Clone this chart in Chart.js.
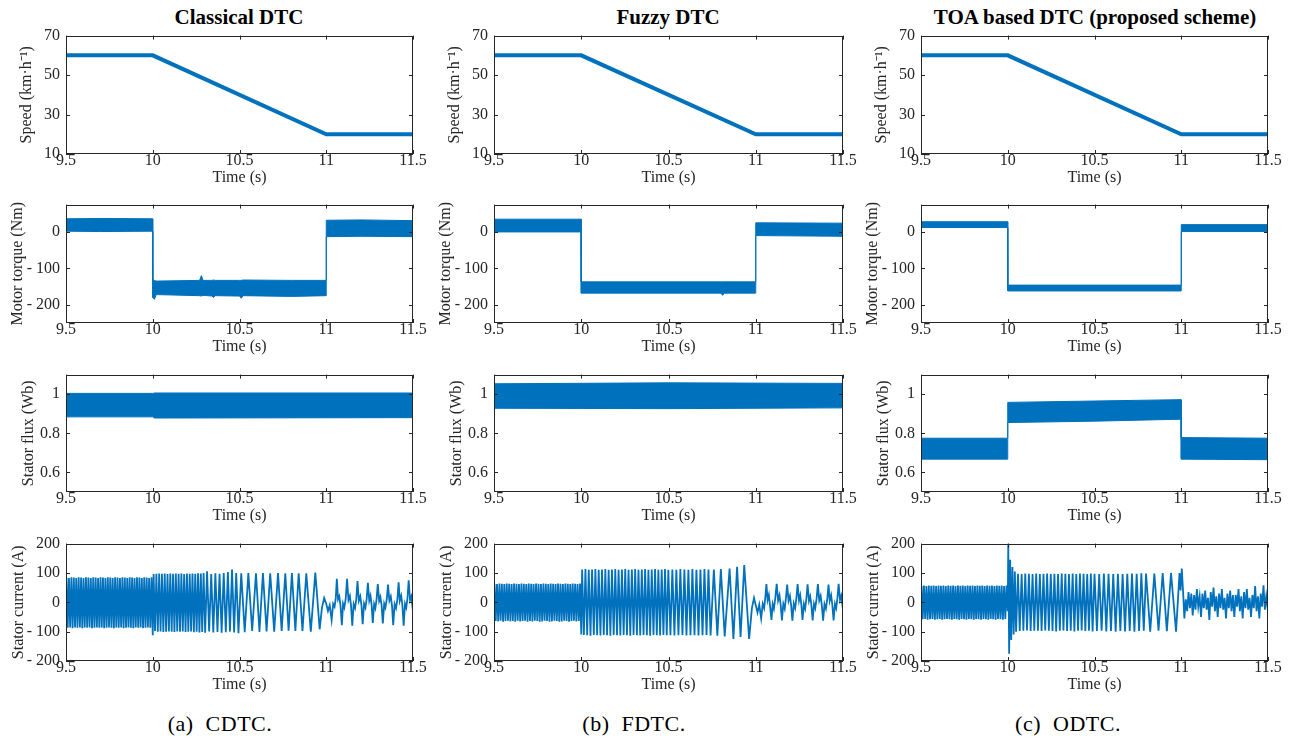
<!DOCTYPE html>
<html lang="en">
<head>
<meta charset="UTF-8">
<title>DTC comparison</title>
<script src="https://cdn.jsdelivr.net/npm/chart.js"></script>
<style>
  body { margin: 0; background: #fff; width: 1297px; height: 737px; position: relative; overflow: hidden; font-family: "Liberation Serif", serif; }
  .title { position: absolute; top: 5px; font-weight: bold; font-size: 21px; transform: translateX(-50%); white-space: nowrap; color: #000; }
  .caption { position: absolute; top: 711px; font-family: "Liberation Serif", serif; font-size: 22px; transform: translateX(-50%); white-space: pre; color: #000; word-spacing: 6px; letter-spacing: 0.5px; }
  canvas { position: absolute; }
</style>
</head>
<body>
<div class="title" style="left:239px">Classical DTC</div>
<div class="title" style="left:668px">Fuzzy DTC</div>
<div class="title" style="left:1095px">TOA based DTC (proposed scheme)</div>
<div class="caption" style="left:220px">(a) CDTC.</div>
<div class="caption" style="left:634px">(b) FDTC.</div>
<div class="caption" style="left:1068px">(c) ODTC.</div>

<script>
  // ---- data ----
  const timeTicks = [9.5, 10, 10.5, 11, 11.5];
  const speedTicks = [10, 30, 50, 70];
  const torqueTicks = [-200, -100, 0];
  const fluxTicks = [0.6, 0.8, 1];
  const currentTicks = [-200, -100, 0, 100, 200];

  // speed reference (same for all three schemes)
  const speedT = [9.5, 10, 11, 11.5];
  const speedV = [60, 60, 20, 20];

  // torque ripple bands (upper / lower envelope)
  const cdtcTorqueT = [9.5, 9.7, 9.999, 10.0, 10.01, 10.02, 10.27, 10.28, 10.29, 10.34, 10.35, 10.36, 10.5, 10.51, 10.52, 10.8, 10.999, 11.0, 11.2, 11.5];
  const cdtcTorqueHi = [36, 37, 36, -133, -133, -135, -133, -120, -133, -133, -132, -133, -133, -133, -132, -133, -133, 32, 33, 31];
  const cdtcTorqueLo = [2, 1, 2, -180, -185, -172, -175, -176, -174, -176, -180, -175, -176, -182, -175, -177, -175, -13, -12, -13];

  const fdtcTorqueT = [9.5, 9.999, 10.0, 10.8, 10.81, 10.82, 10.999, 11.0, 11.5];
  const fdtcTorqueHi = [35, 35, -137, -137, -137, -137, -137, 25, 24];
  const fdtcTorqueLo = [0, 0, -168, -168, -174, -168, -168, -10, -12];

  const odtcTorqueT = [9.5, 9.999, 10.0, 10.999, 11.0, 11.5];
  const odtcTorqueHi = [28, 28, -146, -146, 20, 20];
  const odtcTorqueLo = [12, 12, -162, -162, 1, 1];

  // stator flux bands
  const cdtcFluxT = [9.5, 10, 10.01, 11.5];
  const cdtcFluxHi = [1.004, 1.004, 1.006, 1.006];
  const cdtcFluxLo = [0.884, 0.884, 0.878, 0.880];

  const fdtcFluxT = [9.5, 10.5, 11.5];
  const fdtcFluxHi = [1.053, 1.058, 1.055];
  const fdtcFluxLo = [0.928, 0.926, 0.930];

  const odtcFluxT = [9.5, 9.999, 10.0, 10.5, 10.999, 11.0, 11.5];
  const odtcFluxHi = [0.775, 0.775, 0.958, 0.965, 0.972, 0.778, 0.775];
  const odtcFluxLo = [0.668, 0.668, 0.855, 0.862, 0.872, 0.668, 0.665];

  // stator current turning points before the deceleration (shared times)
  const tBefore = [
    9.503, 9.510, 9.517, 9.524, 9.531, 9.538, 9.545, 9.552, 9.559, 9.566,
    9.573, 9.580, 9.587, 9.594, 9.601, 9.608, 9.615, 9.622, 9.629, 9.636,
    9.643, 9.650, 9.657, 9.664, 9.671, 9.678, 9.685, 9.692, 9.699, 9.706,
    9.713, 9.720, 9.727, 9.734, 9.741, 9.748, 9.755, 9.762, 9.769, 9.776,
    9.783, 9.790, 9.797, 9.804, 9.811, 9.818, 9.825, 9.832, 9.839, 9.846,
    9.853, 9.860, 9.867, 9.874, 9.881, 9.888, 9.895, 9.902, 9.909, 9.916,
    9.923, 9.930, 9.937, 9.944, 9.951, 9.958, 9.965, 9.972, 9.979, 9.986,
    9.993
  ];
  const cdtcBefore = [
    84, -87, 83, -86, 85, -88, 84, -86, 83, -87,
    85, -86, 84, -88, 83, -86, 85, -87, 84, -86,
    83, -88, 85, -87, 84, -86, 83, -87, 85, -86,
    84, -88, 83, -87, 85, -86, 84, -87, 83, -88,
    85, -86, 84, -87, 83, -86, 85, -88, 84, -87,
    83, -86, 85, -87, 84, -88, 83, -86, 85, -87,
    84, -86, 83, -88, 85, -87, 84, -86, 83, -87,
    85
  ];
  const fdtcBefore = [
    63, -64, 62, -65, 64, -63, 63, -66, 62, -64,
    64, -63, 63, -65, 62, -64, 64, -66, 63, -63,
    62, -65, 64, -64, 63, -63, 62, -66, 64, -64,
    63, -65, 62, -63, 64, -64, 63, -66, 62, -65,
    64, -63, 63, -64, 62, -66, 64, -65, 63, -63,
    62, -64, 64, -66, 63, -65, 62, -63, 64, -64,
    63, -66, 62, -64, 64, -63, 63, -65, 62, -64,
    64
  ];
  const odtcBefore = [
    56, -58, 57, -57, 55, -59, 57, -58, 56, -57,
    57, -59, 55, -58, 57, -57, 56, -59, 57, -58,
    55, -57, 57, -58, 56, -59, 57, -57, 55, -58,
    57, -59, 56, -57, 57, -58, 55, -59, 57, -57,
    56, -58, 57, -59, 55, -57, 57, -58, 56, -59,
    57, -57, 55, -58, 57, -59, 56, -57, 57, -58,
    55, -59, 57, -57, 56, -58, 57, -59, 55, -57,
    57
  ];

  // stator current turning points [time, amps] from 10 s on
  const cdtcAfter = [
    [10.000,-112],[10.005,96],[10.013,-98],[10.021,97],[10.029,-100],[10.037,98],[10.045,-99],[10.053,97],[10.061,-101],[10.069,98],
    [10.077,-100],[10.085,96],[10.093,-99],[10.101,98],[10.109,-100],[10.117,97],[10.125,-101],[10.133,98],[10.141,-99],[10.149,97],
    [10.157,-100],[10.165,98],[10.173,-99],[10.181,96],[10.189,-101],[10.197,98],[10.205,-100],[10.213,97],[10.221,-99],[10.229,98],
    [10.237,-102],[10.245,97],[10.253,-100],[10.261,99],[10.269,-103],[10.277,98],[10.285,-101],[10.293,100],[10.302,-104],[10.313,106],
    [10.325,-99],[10.337,96],[10.349,-103],[10.361,99],[10.373,-101],[10.385,97],[10.397,-104],[10.409,100],[10.421,-102],[10.433,103],
    [10.445,-100],[10.457,112],[10.469,-103],[10.481,100],[10.494,-105],[10.510,99],[10.530,-102],[10.551,100],[10.573,-98],[10.595,99],
    [10.615,-101],[10.635,100],[10.656,-99],[10.677,99],[10.700,-100],[10.722,100],[10.743,-98],[10.764,99],[10.783,-97],[10.802,100],
    [10.822,-98],[10.841,99],[10.863,-98],[10.885,99],[10.911,-100],[10.937,101],[10.962,-92],[10.975,-20],[10.988,15],
    [11.000,-5],[11.010,-30],[11.020,-10],[11.031,-60],[11.040,-5],[11.048,-15],[11.055,15],[11.061,80],[11.068,10],[11.075,20],
    [11.082,-10],[11.090,-78],[11.097,-5],[11.104,-18],[11.112,12],[11.120,80],[11.128,8],[11.136,22],[11.143,-12],[11.150,-80],
    [11.158,-6],[11.166,-20],[11.173,10],[11.180,72],[11.188,5],[11.196,20],[11.203,-10],[11.210,-75],[11.218,-4],[11.226,-18],
    [11.233,12],[11.240,66],[11.248,6],[11.255,22],[11.262,-12],[11.268,-70],[11.276,-6],[11.283,-20],[11.290,10],[11.297,62],
    [11.305,5],[11.312,18],[11.319,-10],[11.326,-72],[11.334,-5],[11.341,-18],[11.349,12],[11.356,60],[11.364,6],[11.372,20],
    [11.379,-12],[11.386,-78],[11.394,-6],[11.402,-20],[11.410,10],[11.417,68],[11.424,5],[11.432,22],[11.439,-10],[11.446,-80],
    [11.454,-5],[11.461,-18],[11.468,12],[11.475,75],[11.483,8],[11.490,20],[11.500,-30]
  ];
  const fdtcAfter = [
    [10.000,-110],[10.005,112],[10.015,-111],[10.024,113],[10.034,-112],[10.043,111],[10.053,-114],[10.062,112],[10.072,-111],[10.081,113],
    [10.091,-112],[10.100,111],[10.110,-113],[10.119,112],[10.129,-111],[10.138,113],[10.148,-112],[10.157,111],[10.167,-114],[10.176,112],
    [10.186,-111],[10.195,113],[10.205,-112],[10.214,111],[10.224,-113],[10.233,112],[10.243,-111],[10.252,113],[10.262,-112],[10.271,111],
    [10.281,-114],[10.290,112],[10.300,-111],[10.309,113],[10.319,-112],[10.328,111],[10.338,-113],[10.347,112],[10.357,-111],[10.366,113],
    [10.376,-112],[10.385,111],[10.395,-114],[10.404,112],[10.414,-111],[10.423,113],[10.433,-112],[10.442,111],[10.452,-113],[10.461,112],
    [10.471,-111],[10.480,113],[10.490,-112],[10.499,111],[10.511,-112],[10.522,112],[10.534,-113],[10.545,111],[10.557,-112],[10.568,113],
    [10.580,-111],[10.591,112],[10.603,-113],[10.614,111],[10.626,-112],[10.637,113],[10.649,-112],[10.660,111],[10.672,-113],[10.683,112],
    [10.695,-112],[10.706,113],[10.718,-111],[10.729,112],[10.741,-113],[10.760,112],[10.780,-114],[10.800,113],[10.822,-116],[10.850,115],
    [10.872,-125],[10.893,121],[10.913,-118],[10.934,127],[10.962,-125],[10.978,-20],[10.990,15],
    [11.000,-10],[11.010,-35],[11.020,-8],[11.031,-55],[11.040,-5],[11.048,-20],[11.055,18],[11.061,62],[11.068,8],[11.075,25],
    [11.082,-12],[11.090,-60],[11.097,-6],[11.104,-22],[11.112,15],[11.120,63],[11.128,6],[11.136,24],[11.143,-10],[11.150,-62],
    [11.158,-5],[11.166,-22],[11.173,14],[11.180,60],[11.188,5],[11.196,22],[11.203,-12],[11.210,-63],[11.218,-4],[11.226,-20],
    [11.233,15],[11.240,62],[11.248,6],[11.255,24],[11.262,-12],[11.268,-60],[11.276,-6],[11.283,-22],[11.290,12],[11.297,61],
    [11.305,5],[11.312,20],[11.319,-10],[11.326,-62],[11.334,-5],[11.341,-20],[11.349,14],[11.356,62],[11.364,6],[11.372,22],
    [11.379,-12],[11.386,-63],[11.394,-6],[11.402,-22],[11.410,12],[11.417,60],[11.424,5],[11.432,24],[11.439,-10],[11.446,-62],
    [11.454,-5],[11.461,-20],[11.468,14],[11.475,63],[11.483,8],[11.490,22],[11.500,-25]
  ];
  const odtcAfter = [
    [10.000,-30],[10.003,200],[10.008,-175],[10.014,145],[10.020,-128],[10.027,120],[10.034,-110],[10.041,105],[10.048,-100],
    [10.059,97],[10.069,-98],[10.080,96],[10.090,-97],[10.101,98],[10.111,-96],[10.122,97],[10.132,-98],[10.143,96],[10.153,-97],
    [10.164,98],[10.174,-97],[10.185,96],[10.195,-98],[10.206,97],[10.216,-96],[10.227,98],[10.237,-97],[10.248,96],[10.258,-98],
    [10.269,97],[10.279,-99],[10.290,96],[10.300,-97],[10.311,98],[10.321,-96],[10.332,97],[10.342,-98],[10.353,96],[10.363,-97],
    [10.374,98],[10.384,-99],[10.395,96],[10.405,-97],[10.416,98],[10.426,-96],[10.437,97],[10.447,-98],[10.458,96],[10.468,-97],
    [10.479,98],[10.489,-99],[10.500,97],[10.514,-98],[10.527,96],[10.541,-97],[10.554,98],[10.568,-99],[10.581,97],[10.595,-98],
    [10.608,96],[10.622,-100],[10.635,97],[10.649,-98],[10.662,96],[10.676,-99],[10.689,97],[10.703,-98],[10.716,98],[10.730,-100],
    [10.743,97],[10.757,-98],[10.770,99],[10.784,-97],[10.797,98],[10.821,-100],[10.845,98],[10.869,-97],[10.893,100],[10.917,-98],
    [10.941,100],[10.970,-100],[10.990,100],[10.996,40],[11.003,115],[11.012,20],
    [11.018,-55],[11.026,10],[11.034,-30],[11.042,35],[11.050,-20],[11.058,30],[11.066,-45],[11.074,25],[11.082,-25],[11.090,45],
    [11.098,-15],[11.106,20],[11.114,-50],[11.122,30],[11.130,-20],[11.138,40],[11.146,-25],[11.154,15],[11.162,-60],[11.170,35],
    [11.178,-15],[11.186,50],[11.194,-30],[11.202,20],[11.210,-50],[11.218,30],[11.226,-20],[11.234,45],[11.242,-25],[11.250,15],
    [11.258,-55],[11.266,30],[11.274,-20],[11.282,40],[11.290,-30],[11.298,25],[11.306,-50],[11.314,25],[11.322,-15],[11.330,45],
    [11.338,-30],[11.346,20],[11.354,-55],[11.362,35],[11.370,-20],[11.378,45],[11.386,-25],[11.394,15],[11.402,-50],[11.410,25],
    [11.418,-20],[11.426,55],[11.434,-30],[11.442,20],[11.450,-55],[11.458,30],[11.466,-15],[11.474,58],[11.482,-25],[11.490,20],
    [11.500,-30]
  ];

  // ---- layout ----
  const BLUE = '#0072BD';
  const INK = '#262626';
  const colLeft = [66, 494, 921];
  const colWidth = [347, 349, 347];
  const rowTop = [32, 201, 371, 540];
  const rowHeight = [122, 122, 121, 121];
  const titleGap = [39, 48, 37, 47];   // distance of y title centre from the axis
  const L = 60, R = 18, T = 12, B = 44;

  const zip = (xs, ys) => xs.map((x, i) => ({x: x, y: ys[i]}));
  const fmt = v => v < 0 ? '- ' + Math.abs(v) : String(v);

  const frame = {
    id: 'frame',
    afterDraw(chart) {
      const {ctx, chartArea: a, scales: {x, y}} = chart;
      ctx.save();
      ctx.strokeStyle = INK;
      ctx.lineWidth = 1;
      ctx.beginPath();
      x.ticks.forEach(t => {
        const px = Math.round(x.getPixelForValue(t.value)) + 0.5;
        ctx.moveTo(px, a.bottom); ctx.lineTo(px, a.bottom - 4);
        ctx.moveTo(px, a.top); ctx.lineTo(px, a.top + 4);
      });
      y.ticks.forEach(t => {
        const py = Math.round(y.getPixelForValue(t.value)) + 0.5;
        ctx.moveTo(a.left, py); ctx.lineTo(a.left + 4, py);
        ctx.moveTo(a.right, py); ctx.lineTo(a.right - 4, py);
      });
      ctx.stroke();
      ctx.strokeRect(Math.round(a.left) + 0.5, Math.round(a.top) + 0.5,
                     Math.round(a.right - a.left) - 1, Math.round(a.bottom - a.top) - 1);
      ctx.restore();
    }
  };

  function band(xs, hi, lo) {
    return [
      {data: zip(xs, hi), borderColor: BLUE, backgroundColor: BLUE, borderWidth: 1, fill: '+1'},
      {data: zip(xs, lo), borderColor: BLUE, borderWidth: 1, fill: false}
    ];
  }
  function current(before, after) {
    const pts = zip(tBefore, before).concat(after.map(p => ({x: p[0], y: p[1]})));
    return [{data: pts, borderColor: BLUE, borderWidth: 1.8, fill: false}];
  }

  function addChart(col, row, yMin, yMax, yTicks, yTitle, datasets) {
    const cv = document.createElement('canvas');
    const w = colWidth[col] + L + R, h = rowHeight[row] + T + B;
    cv.width = w; cv.height = h;
    cv.style.left = (colLeft[col] - L) + 'px';
    cv.style.top = (rowTop[row] - T) + 'px';
    cv.style.width = w + 'px'; cv.style.height = h + 'px';
    document.body.appendChild(cv);
    const tickFont = {family: 'Liberation Serif', size: 16};
    new Chart(cv, {
      type: 'line',
      data: {datasets: datasets.map(d => Object.assign({pointRadius: 0, tension: 0}, d))},
      options: {
        responsive: false, animation: false, events: [],
        layout: {padding: {top: T, right: R, left: 0, bottom: 0}},
        plugins: {legend: {display: false}, tooltip: {enabled: false}},
        scales: {
          x: {
            type: 'linear', min: 9.5, max: 11.5,
            afterBuildTicks: s => { s.ticks = timeTicks.map(v => ({value: v})); },
            afterFit: s => { s.height = B; },
            grid: {display: false, drawTicks: false}, border: {display: false},
            ticks: {font: tickFont, color: INK, padding: -3, maxRotation: 0, autoSkip: false, callback: v => String(v)},
            title: {display: true, text: 'Time (s)', color: INK, font: tickFont, padding: {top: 0, bottom: B - 24 - 9.6}}
          },
          y: {
            type: 'linear', min: yMin, max: yMax,
            afterBuildTicks: s => { s.ticks = yTicks.map(v => ({value: v})); },
            afterFit: s => { s.width = L; },
            grid: {display: false, drawTicks: false}, border: {display: false},
            ticks: {font: tickFont, color: INK, padding: 6, autoSkip: false, callback: fmt},
            title: {display: true, text: yTitle, color: INK, font: tickFont, padding: {top: L - titleGap[row] - 9.6, bottom: 0}}
          }
        }
      },
      plugins: [frame]
    });
  }

  const speedLine = [{data: zip(speedT, speedV), borderColor: BLUE, borderWidth: 4, fill: false}];
  const speedTitle = 'Speed (km\u00B7h\u207B\u00B9)';

  for (let c = 0; c < 3; c++) addChart(c, 0, 10, 70, speedTicks, speedTitle, speedLine);

  addChart(0, 1, -250, 75, torqueTicks, 'Motor torque (Nm)', band(cdtcTorqueT, cdtcTorqueHi, cdtcTorqueLo));
  addChart(1, 1, -250, 75, torqueTicks, 'Motor torque (Nm)', band(fdtcTorqueT, fdtcTorqueHi, fdtcTorqueLo));
  addChart(2, 1, -250, 75, torqueTicks, 'Motor torque (Nm)', band(odtcTorqueT, odtcTorqueHi, odtcTorqueLo));

  addChart(0, 2, 0.5, 1.1, fluxTicks, 'Stator flux (Wb)', band(cdtcFluxT, cdtcFluxHi, cdtcFluxLo));
  addChart(1, 2, 0.5, 1.1, fluxTicks, 'Stator flux (Wb)', band(fdtcFluxT, fdtcFluxHi, fdtcFluxLo));
  addChart(2, 2, 0.5, 1.1, fluxTicks, 'Stator flux (Wb)', band(odtcFluxT, odtcFluxHi, odtcFluxLo));

  addChart(0, 3, -200, 200, currentTicks, 'Stator current (A)', current(cdtcBefore, cdtcAfter));
  addChart(1, 3, -200, 200, currentTicks, 'Stator current (A)', current(fdtcBefore, fdtcAfter));
  addChart(2, 3, -200, 200, currentTicks, 'Stator current (A)', current(odtcBefore, odtcAfter));
</script>
</body>
</html>
